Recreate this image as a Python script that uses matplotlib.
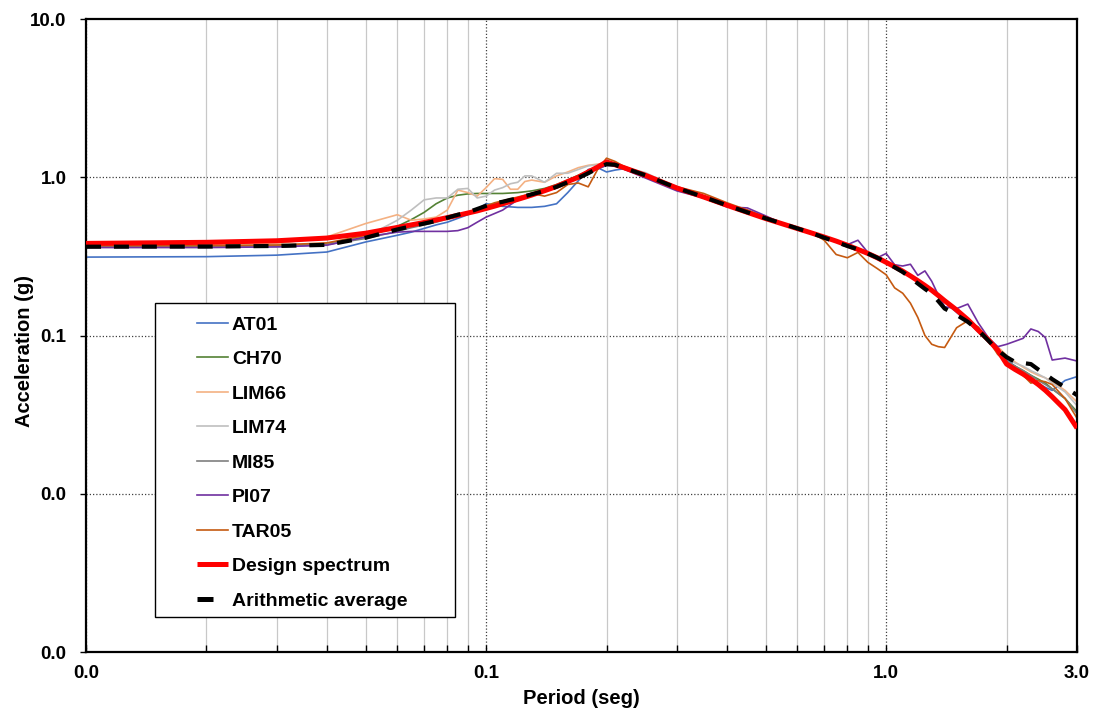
import matplotlib
matplotlib.use("Agg")
import matplotlib.pyplot as plt
from matplotlib.patches import Rectangle
from matplotlib.lines import Line2D
from matplotlib.ticker import FixedLocator, FixedFormatter, NullFormatter, NullLocator

# ---------------- data ----------------
period = [0.01, 0.02, 0.03, 0.04, 0.05, 0.06, 0.065, 0.07, 0.075, 0.08,
          0.085, 0.09, 0.095, 0.10, 0.105, 0.11, 0.115, 0.12, 0.125, 0.13,
          0.14, 0.15, 0.16, 0.17, 0.18, 0.19, 0.20, 0.21, 0.22, 0.25,
          0.30, 0.35, 0.40, 0.45, 0.50, 0.55, 0.60, 0.65, 0.70, 0.75,
          0.80, 0.85, 0.90, 0.95, 1.00, 1.05, 1.10, 1.15, 1.20, 1.25,
          1.30, 1.35, 1.40, 1.50, 1.60, 1.70, 1.80, 1.90, 2.00, 2.10,
          2.20, 2.30, 2.40, 2.50, 2.60, 2.80, 3.00]

at01 = [0.313, 0.315, 0.322, 0.337, 0.39, 0.43, 0.45, 0.475, 0.50, 0.52,
        0.55, 0.58, 0.63, 0.68, 0.67, 0.655, 0.65, 0.645, 0.645, 0.645,
        0.655, 0.68, 0.80, 0.95, 1.12, 1.15, 1.08, 1.11, 1.13, 1.02,
        0.84, 0.75, 0.66, 0.60, 0.55, 0.505, 0.47, 0.445, 0.415, 0.39,
        0.37, 0.345, 0.33, 0.31, 0.29, 0.27, 0.255, 0.238, 0.22, 0.205,
        0.19, 0.176, 0.163, 0.14, 0.122, 0.105, 0.092, 0.08, 0.07, 0.064,
        0.058, 0.054, 0.05, 0.047, 0.045, 0.052, 0.055]

ch70 = [0.37, 0.37, 0.372, 0.38, 0.42, 0.49, 0.54, 0.60, 0.68, 0.74,
        0.77, 0.785, 0.79, 0.79, 0.79, 0.79, 0.795, 0.80, 0.81, 0.82,
        0.85, 0.90, 0.96, 1.03, 1.10, 1.16, 1.20, 1.19, 1.15, 1.03,
        0.86, 0.75, 0.67, 0.62, 0.56, 0.51, 0.475, 0.45, 0.42, 0.392,
        0.37, 0.35, 0.33, 0.31, 0.29, 0.272, 0.255, 0.238, 0.222, 0.206,
        0.192, 0.178, 0.165, 0.143, 0.124, 0.107, 0.093, 0.08, 0.068, 0.064,
        0.06, 0.056, 0.053, 0.05, 0.046, 0.04, 0.033]

lim66 = [0.375, 0.376, 0.38, 0.42, 0.51, 0.58, 0.535, 0.545, 0.56, 0.62,
         0.83, 0.80, 0.76, 0.86, 0.98, 0.97, 0.84, 0.84, 0.94, 0.96,
         0.93, 1.02, 1.08, 1.15, 1.19, 1.21, 1.23, 1.20, 1.16, 1.05,
         0.86, 0.76, 0.67, 0.61, 0.555, 0.515, 0.48, 0.45, 0.42, 0.40,
         0.378, 0.355, 0.333, 0.312, 0.292, 0.273, 0.256, 0.24, 0.224, 0.208,
         0.194, 0.18, 0.168, 0.146, 0.128, 0.11, 0.096, 0.085, 0.075, 0.068,
         0.063, 0.059, 0.056, 0.054, 0.051, 0.045, 0.038]

lim74 = [0.36, 0.36, 0.363, 0.375, 0.42, 0.535, 0.62, 0.72, 0.74, 0.74,
         0.84, 0.85, 0.74, 0.76, 0.83, 0.86, 0.91, 0.93, 1.02, 1.02,
         0.93, 1.06, 1.06, 1.12, 1.18, 1.20, 1.22, 1.20, 1.16, 1.07,
         0.86, 0.75, 0.67, 0.615, 0.555, 0.515, 0.478, 0.448, 0.42, 0.397,
         0.375, 0.352, 0.332, 0.312, 0.291, 0.272, 0.255, 0.238, 0.222, 0.207,
         0.193, 0.179, 0.166, 0.144, 0.125, 0.108, 0.094, 0.083, 0.072, 0.067,
         0.064, 0.06, 0.057, 0.054, 0.05, 0.044, 0.036]

mi85 = [0.365, 0.366, 0.37, 0.376, 0.41, 0.455, 0.48, 0.50, 0.52, 0.545,
        0.57, 0.59, 0.62, 0.65, 0.68, 0.70, 0.72, 0.74, 0.76, 0.78,
        0.82, 0.87, 0.93, 0.99, 1.06, 1.13, 1.19, 1.19, 1.15, 1.03,
        0.85, 0.745, 0.665, 0.60, 0.55, 0.51, 0.47, 0.445, 0.415, 0.392,
        0.37, 0.348, 0.33, 0.31, 0.29, 0.27, 0.253, 0.236, 0.22, 0.205,
        0.19, 0.176, 0.164, 0.142, 0.123, 0.106, 0.092, 0.08, 0.069, 0.064,
        0.06, 0.056, 0.052, 0.049, 0.046, 0.04, 0.032]

pi07 = [0.36, 0.36, 0.363, 0.372, 0.42, 0.45, 0.455, 0.455, 0.455, 0.455,
        0.46, 0.48, 0.52, 0.56, 0.59, 0.62, 0.67, 0.72, 0.76, 0.79,
        0.83, 0.87, 0.93, 0.99, 1.06, 1.13, 1.19, 1.18, 1.13, 0.99,
        0.82, 0.74, 0.65, 0.64, 0.57, 0.51, 0.47, 0.44, 0.418, 0.40,
        0.375, 0.40, 0.335, 0.31, 0.33, 0.28, 0.275, 0.282, 0.24, 0.256,
        0.22, 0.18, 0.152, 0.148, 0.158, 0.12, 0.097, 0.085, 0.088, 0.092,
        0.096, 0.11, 0.106, 0.097, 0.07, 0.072, 0.069]

tar05 = [0.37, 0.37, 0.373, 0.385, 0.43, 0.48, 0.50, 0.52, 0.54, 0.56,
         0.58, 0.60, 0.63, 0.66, 0.69, 0.71, 0.73, 0.75, 0.77, 0.79,
         0.76, 0.80, 0.90, 0.92, 0.87, 1.12, 1.32, 1.26, 1.18, 1.04,
         0.87, 0.79, 0.69, 0.62, 0.55, 0.51, 0.48, 0.45, 0.40, 0.325,
         0.31, 0.335, 0.29, 0.265, 0.242, 0.20, 0.185, 0.16, 0.13, 0.10,
         0.088, 0.085, 0.084, 0.112, 0.124, 0.113, 0.094, 0.076, 0.068, 0.062,
         0.056, 0.05, 0.052, 0.051, 0.049, 0.04, 0.03]

design = [0.382, 0.388, 0.397, 0.413, 0.443, 0.482, 0.50, 0.518, 0.537, 0.556,
          0.575, 0.594, 0.613, 0.635, 0.657, 0.68, 0.703, 0.725, 0.748, 0.772,
          0.822, 0.875, 0.94, 1.00, 1.08, 1.16, 1.25, 1.20, 1.155, 1.03,
          0.855, 0.75, 0.665, 0.60, 0.548, 0.508, 0.474, 0.445, 0.419, 0.395,
          0.372, 0.35, 0.33, 0.31, 0.29, 0.272, 0.255, 0.238, 0.222, 0.207,
          0.193, 0.179, 0.166, 0.145, 0.126, 0.108, 0.094, 0.081, 0.066, 0.061,
          0.057, 0.053, 0.049, 0.045, 0.041, 0.034, 0.026]

average = [0.364, 0.365, 0.368, 0.374, 0.415, 0.468, 0.49, 0.51, 0.53, 0.555,
           0.58, 0.60, 0.63, 0.66, 0.685, 0.70, 0.72, 0.735, 0.76, 0.78,
           0.82, 0.87, 0.93, 0.99, 1.06, 1.14, 1.21, 1.20, 1.15, 1.03,
           0.855, 0.75, 0.665, 0.60, 0.55, 0.51, 0.475, 0.445, 0.415, 0.39,
           0.368, 0.35, 0.33, 0.31, 0.29, 0.27, 0.252, 0.232, 0.213, 0.197,
           0.184, 0.165, 0.148, 0.135, 0.122, 0.108, 0.093, 0.081, 0.073, 0.068,
           0.067, 0.066, 0.061, 0.057, 0.053, 0.047, 0.042]

record_names = ["AT01", "CH70", "LIM66", "LIM74", "MI85", "PI07", "TAR05"]
record_values = [at01, ch70, lim66, lim74, mi85, pi07, tar05]
record_colors = ["#4472c4", "#548235", "#f4b183", "#bfbfbf", "#7f7f7f", "#7030a0", "#c55a11"]

x_ticks = [0.01, 0.1, 1.0, 3.0]
x_ticklabels = ["0.0", "0.1", "1.0", "3.0"]
x_minor = [0.02, 0.03, 0.04, 0.05, 0.06, 0.07, 0.08, 0.09,
           0.2, 0.3, 0.4, 0.5, 0.6, 0.7, 0.8, 0.9, 2.0]
y_ticks = [0.001, 0.01, 0.1, 1.0, 10.0]
y_ticklabels = ["0.0", "0.0", "0.1", "1.0", "10.0"]

# ---------------- figure ----------------
plt.rcParams['font.family'] = ['Liberation Sans', 'DejaVu Sans']
plt.rcParams['font.weight'] = 'bold'

fig = plt.figure(figsize=(10.93, 7.15), dpi=100)
ax = fig.add_axes([0.0787, 0.0881, 0.9067, 0.8853])

handles = []
for name, vals, col in zip(record_names, record_values, record_colors):
    h, = ax.plot(period, vals, color=col, lw=1.2, label=name, zorder=2)
    handles.append(h)
h_design, = ax.plot(period, design, color="#ff0000", lw=3.6, label="Design spectrum", zorder=3,
                    solid_capstyle='butt')
ax.plot(period, average, color="black", lw=3.0, dashes=(3.6, 3.1), zorder=3.5)
h_avg = Line2D([], [], color="black", lw=3.6, dashes=(3.2, 10), label="Arithmetic average")
handles += [h_design, h_avg]

ax.set_xscale('log')
ax.set_yscale('log')
ax.set_xlim(0.01, 3.0)
ax.set_ylim(0.001, 10.0)

ax.xaxis.set_major_locator(FixedLocator(x_ticks))
ax.xaxis.set_major_formatter(FixedFormatter(x_ticklabels))
ax.xaxis.set_minor_locator(FixedLocator(x_minor))
ax.xaxis.set_minor_formatter(NullFormatter())
ax.yaxis.set_major_locator(FixedLocator(y_ticks))
ax.yaxis.set_major_formatter(FixedFormatter(y_ticklabels))
ax.yaxis.set_minor_locator(NullLocator())

# grid
ax.grid(which='minor', axis='x', color='#c8c8c8', lw=0.9, ls='-', zorder=0)
for xv in x_ticks[:3]:
    ax.axvline(xv, color='#404040', lw=0.9, ls=(0, (1, 1.6)), zorder=1)
for yv in y_ticks[1:4]:
    ax.axhline(yv, color='#404040', lw=0.9, ls=(0, (1, 1.6)), zorder=1)

ax.tick_params(axis='x', which='major', direction='in', length=5, width=1, pad=9,
               labelsize=13.5)
ax.tick_params(axis='x', which='minor', direction='in', length=5, width=1)
ax.tick_params(axis='y', which='major', direction='out', length=4, width=1, pad=10,
               labelsize=13.5)
for lab in ax.get_xticklabels() + ax.get_yticklabels():
    lab.set_fontweight('bold')

for sp in ax.spines.values():
    sp.set_linewidth(1.6)
    sp.set_color('black')

ax.set_xlabel("Period (seg)", fontsize=14.5, fontweight='bold')
ax.set_ylabel("Acceleration (g)", fontsize=14.5, fontweight='bold')
ax.xaxis.set_label_coords(0.5, -0.058)
ax.yaxis.set_label_coords(-0.0525, 0.4755)

# legend box and legend
ax.add_patch(Rectangle((0.0696, 0.0553), 0.3028, 0.4960, transform=ax.transAxes,
                       facecolor='white', edgecolor='black', lw=1.0, zorder=4))
leg = ax.legend(handles=handles, loc='upper left', bbox_to_anchor=(0.112, 0.531),
                borderaxespad=0, borderpad=0, frameon=False,
                handlelength=1.6, handletextpad=0.2, labelspacing=0.87,
                prop={'weight': 'bold', 'size': 14})
leg.set_zorder(5)

fig.savefig("out.png", dpi=100)
